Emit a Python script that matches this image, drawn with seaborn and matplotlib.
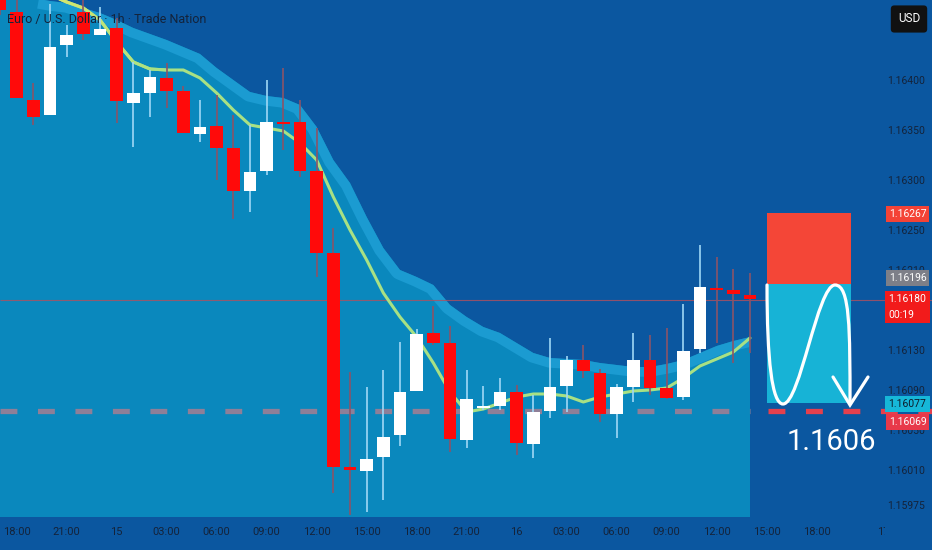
import matplotlib
matplotlib.use("Agg")
import matplotlib.pyplot as plt
import seaborn as sns
import numpy as np
from matplotlib.patches import Rectangle, PathPatch
from matplotlib.path import Path
from matplotlib.collections import LineCollection
from matplotlib.transforms import blended_transform_factory

# hourly candles, EUR/USD, starting 17:00 on the 14th
opens = [1.16490, 1.16468, 1.16380, 1.16365, 1.16435, 1.16468, 1.16445, 1.16452, 1.16377, 1.16387,
         1.16402, 1.16389, 1.16346, 1.16354, 1.16332, 1.16289, 1.16309, 1.16358, 1.16358, 1.16309,
         1.16227, 1.16013, 1.16009, 1.16023, 1.16045, 1.16089, 1.16147, 1.16137, 1.16040, 1.16072,
         1.16074, 1.16088, 1.16036, 1.16069, 1.16094, 1.16120, 1.16107, 1.16066, 1.16093, 1.16120,
         1.16092, 1.16083, 1.16131, 1.16192, 1.16190, 1.16185]
closes = [1.16470, 1.16382, 1.16363, 1.16433, 1.16445, 1.16446, 1.16451, 1.16379, 1.16387, 1.16403,
          1.16389, 1.16347, 1.16353, 1.16332, 1.16289, 1.16308, 1.16358, 1.16356, 1.16309, 1.16227,
          1.16013, 1.16010, 1.16021, 1.16043, 1.16088, 1.16146, 1.16137, 1.16041, 1.16081, 1.16074,
          1.16088, 1.16037, 1.16068, 1.16093, 1.16120, 1.16109, 1.16066, 1.16093, 1.16120, 1.16092,
          1.16082, 1.16129, 1.16193, 1.16190, 1.16186, 1.16181]
highs = [1.16500, 1.16480, 1.16397, 1.16476, 1.16455, 1.16480, 1.16473, 1.16462, 1.16418, 1.16410,
         1.16417, 1.16394, 1.16380, 1.16385, 1.16365, 1.16355, 1.16400, 1.16412, 1.16380, 1.16352,
         1.16252, 1.16108, 1.16093, 1.16110, 1.16138, 1.16151, 1.16174, 1.16154, 1.16110, 1.16094,
         1.16102, 1.16095, 1.16085, 1.16142, 1.16124, 1.16135, 1.16111, 1.16096, 1.16147, 1.16145,
         1.16152, 1.16176, 1.16235, 1.16223, 1.16211, 1.16207]
lows = [1.16465, 1.16382, 1.16355, 1.16365, 1.16423, 1.16440, 1.16445, 1.16357, 1.16333, 1.16363,
        1.16372, 1.16347, 1.16338, 1.16300, 1.16261, 1.16268, 1.16305, 1.16330, 1.16303, 1.16203,
        1.15987, 1.15965, 1.15968, 1.15980, 1.16034, 1.16089, 1.16135, 1.16028, 1.16032, 1.16070,
        1.16070, 1.16025, 1.16022, 1.16062, 1.16068, 1.16102, 1.16058, 1.16042, 1.16078, 1.16085,
        1.16081, 1.16080, 1.16127, 1.16137, 1.16117, 1.16127]

# moving average and upper envelope
ma = [1.16515, 1.16505, 1.16495, 1.16485, 1.16478, 1.16472, 1.16460, 1.16438, 1.16418, 1.16411,
      1.16410, 1.16410, 1.16402, 1.16387, 1.16370, 1.16355, 1.16352, 1.16349, 1.16337, 1.16320,
      1.16283, 1.16250, 1.16220, 1.16187, 1.16163, 1.16143, 1.16117, 1.16088, 1.16068, 1.16071,
      1.16077, 1.16083, 1.16086, 1.16086, 1.16084, 1.16078, 1.16083, 1.16086, 1.16089, 1.16090,
      1.16092, 1.16102, 1.16114, 1.16121, 1.16128, 1.16142]
band_upper = [1.16495, 1.16488, 1.16482, 1.16479, 1.16477, 1.16472, 1.16467, 1.16460, 1.16452, 1.16446,
              1.16440, 1.16433, 1.16426, 1.16412, 1.16400, 1.16388, 1.16384, 1.16382, 1.16375, 1.16353,
              1.16320, 1.16297, 1.16263, 1.16232, 1.16210, 1.16203, 1.16195, 1.16175, 1.16163, 1.16153,
              1.16147, 1.16137, 1.16127, 1.16122, 1.16121, 1.16120, 1.16117, 1.16115, 1.16113, 1.16113,
              1.16116, 1.16120, 1.16127, 1.16134, 1.16139, 1.16143]

y_ticks = [1.15975, 1.16010, 1.16050, 1.16090, 1.16130, 1.16210, 1.16250, 1.16300, 1.16350, 1.16400]
x_tick_pos = [1, 4, 7, 10, 13, 16, 19, 22, 25, 28, 31, 34, 37, 40, 43, 46, 49, 53]
x_tick_labels = ["18:00", "21:00", "15", "03:00", "06:00", "09:00", "12:00", "15:00", "18:00",
                 "21:00", "16", "03:00", "06:00", "09:00", "12:00", "15:00", "18:00", "17"]

last_price = 1.16180
target_level = 1.16069
stop_top, entry, take_top = 1.16267, 1.16196, 1.16077
box_x = [46.02, 51.05]
target_text = "1.1606"

# price scale labels: text, vertical centre, background, text colour
scale_labels = [("1.16267", 1.16266, "#f44336", "white"),
                ("1.16196", 1.16202, "#7d7f88", "white"),
                ("1.16180\n00:19", 1.16173, "#f21b1b", "white"),
                ("1.16077", 1.16076, "#16b7d8", "#0d1b2a"),
                ("1.16069", 1.16058, "#e8394a", "white")]

BG = "#0b57a0"
FILL = "#0a88bd"
STRIPE = "#1b9bd1"
TXT = "#14233a"

sns.set_theme(style="dark")
plt.rcParams["font.family"] = ["Roboto", "DejaVu Sans"]
plt.rcParams["axes.grid"] = False

fig = plt.figure(figsize=(9.32, 5.5), dpi=100, facecolor=BG)
ax = fig.add_axes([0, 33 / 550, 1, 517 / 550])
ax.set_facecolor(BG)
for s in ax.spines.values():
    s.set_visible(False)

idx = np.arange(len(opens))
ax.set_xlim(0, 932 / 16.667)
ax.set_ylim(1.16480 - 517e-5, 1.16480)

# shaded envelope area
fb = ax.fill_between(idx, band_upper, 1.15900, color=FILL, lw=0, zorder=1)
stripe, = ax.plot(idx, band_upper, color=STRIPE, lw=14, zorder=1.2, solid_capstyle="butt")
stripe.set_clip_path(fb.get_paths()[0], ax.transData)

# horizontal levels
ax.hlines(last_price, 0, 60, colors="#b2505e", lw=0.8, alpha=0.8, zorder=1.5)
ax.plot([0, 45], [target_level, target_level], color="#8e7f98", lw=3.8,
        linestyle=(0, (3.2, 3.9)), zorder=2)
ax.plot([46.08, 60], [target_level, target_level], color="#e5404d", lw=3.8,
        linestyle=(0, (3.2, 3.9)), zorder=2)

# moving average, fading from yellow to green near the top
sns.lineplot(x=idx, y=ma, ax=ax, color="#a8e184", lw=2.2, zorder=2.5)
c0 = np.array(matplotlib.colors.to_rgb("#ecea62"))
c1 = np.array(matplotlib.colors.to_rgb("#a8e184"))
segs, cols = [], []
for k in range(10):
    segs.append([(idx[k], ma[k]), (idx[k + 1], ma[k + 1])])
    t = k / 9
    cols.append(tuple(c0 * (1 - t) + c1 * t))
ax.add_collection(LineCollection(segs, colors=cols, lw=2.2, zorder=2.6, capstyle="round"))

# candles
up = [c >= o for o, c in zip(opens, closes)]
wick_cols = ["#9fd8f6" if u else "#8a5468" for u in up]
body_cols = ["#ffffff" if u else "#ff0a0a" for u in up]
ax.vlines(idx, lows, highs, colors=wick_cols, lw=1.2, zorder=3)
bottoms = [min(o, c) for o, c in zip(opens, closes)]
heights = [max(abs(c - o), 1.6e-5) for o, c in zip(opens, closes)]
ax.bar(idx, heights, bottom=bottoms, width=0.76, color=body_cols, lw=0, zorder=3.2)

# trade idea boxes
ax.add_patch(Rectangle((box_x[0], entry), box_x[1] - box_x[0], stop_top - entry,
                       facecolor="#f44637", lw=0, zorder=4))
ax.add_patch(Rectangle((box_x[0], take_top), box_x[1] - box_x[0], entry - take_top,
                       facecolor="#17b3d6", lw=0, zorder=4))

wave = Path([(46.02, 1.16195), (46.02, 1.16120), (46.32, 1.16076), (46.98, 1.16076),
             (48.0, 1.16076), (49.05, 1.16195), (50.10, 1.16195),
             (51.0, 1.16195), (51.0, 1.16150), (51.0, 1.16076)],
            [Path.MOVETO, Path.CURVE4, Path.CURVE4, Path.CURVE4,
             Path.CURVE4, Path.CURVE4, Path.CURVE4,
             Path.CURVE4, Path.CURVE4, Path.CURVE4])
ax.add_patch(PathPatch(wave, facecolor="none", edgecolor="white", lw=2.3, capstyle="round", zorder=5))
ax.plot([49.98, 51.0, 52.08], [1.16103, 1.16075, 1.16103], color="white", lw=2.3,
        solid_capstyle="round", solid_joinstyle="miter", zorder=5)

ax.text(49.85, 1.16038, target_text, color="white", fontsize=21, ha="center", va="center", zorder=6)

# axes ticks
ax.yaxis.tick_right()
ax.set_yticks(y_ticks, [f"{v:.5f}" for v in y_ticks])
ax.tick_params(axis="y", length=0, pad=-5, labelsize=7.5, labelcolor=TXT)
for lbl in ax.get_yticklabels():
    lbl.set_ha("right")
ax.set_xticks(x_tick_pos, x_tick_labels)
ax.tick_params(axis="x", length=0, pad=7, labelsize=8, labelcolor=TXT)
ax.set_xlabel("")
ax.set_ylabel("")

# cover for the clipped date label under the price scale
fig.add_artist(Rectangle((885 / 932, 0), 47 / 932, 33 / 550, transform=fig.transFigure,
                         facecolor=BG, lw=0, zorder=1))

tr = blended_transform_factory(ax.transAxes, ax.transData)
for text, yc, bgc, fgc in scale_labels:
    ax.text(907.5 / 932, yc, text, transform=tr, color=fgc, fontsize=7.5, ha="center", va="center",
            multialignment="left", linespacing=1.7, zorder=7,
            bbox=dict(boxstyle="square,pad=0.3", facecolor=bgc, edgecolor="none"))

fig.text(909 / 932, 1 - 19 / 550, "USD", color="white", fontsize=8.5, ha="center", va="center",
         bbox=dict(boxstyle="round,pad=0.6,rounding_size=0.3", facecolor="#111111", edgecolor="none"))

ax.text(7 / 932, 1 - 20 / 517, "Euro / U.S. Dollar · 1h · Trade Nation", transform=ax.transAxes,
        color=TXT, fontsize=9, ha="left", va="center", zorder=8)

fig.savefig("out.png", dpi=100, facecolor=BG)
